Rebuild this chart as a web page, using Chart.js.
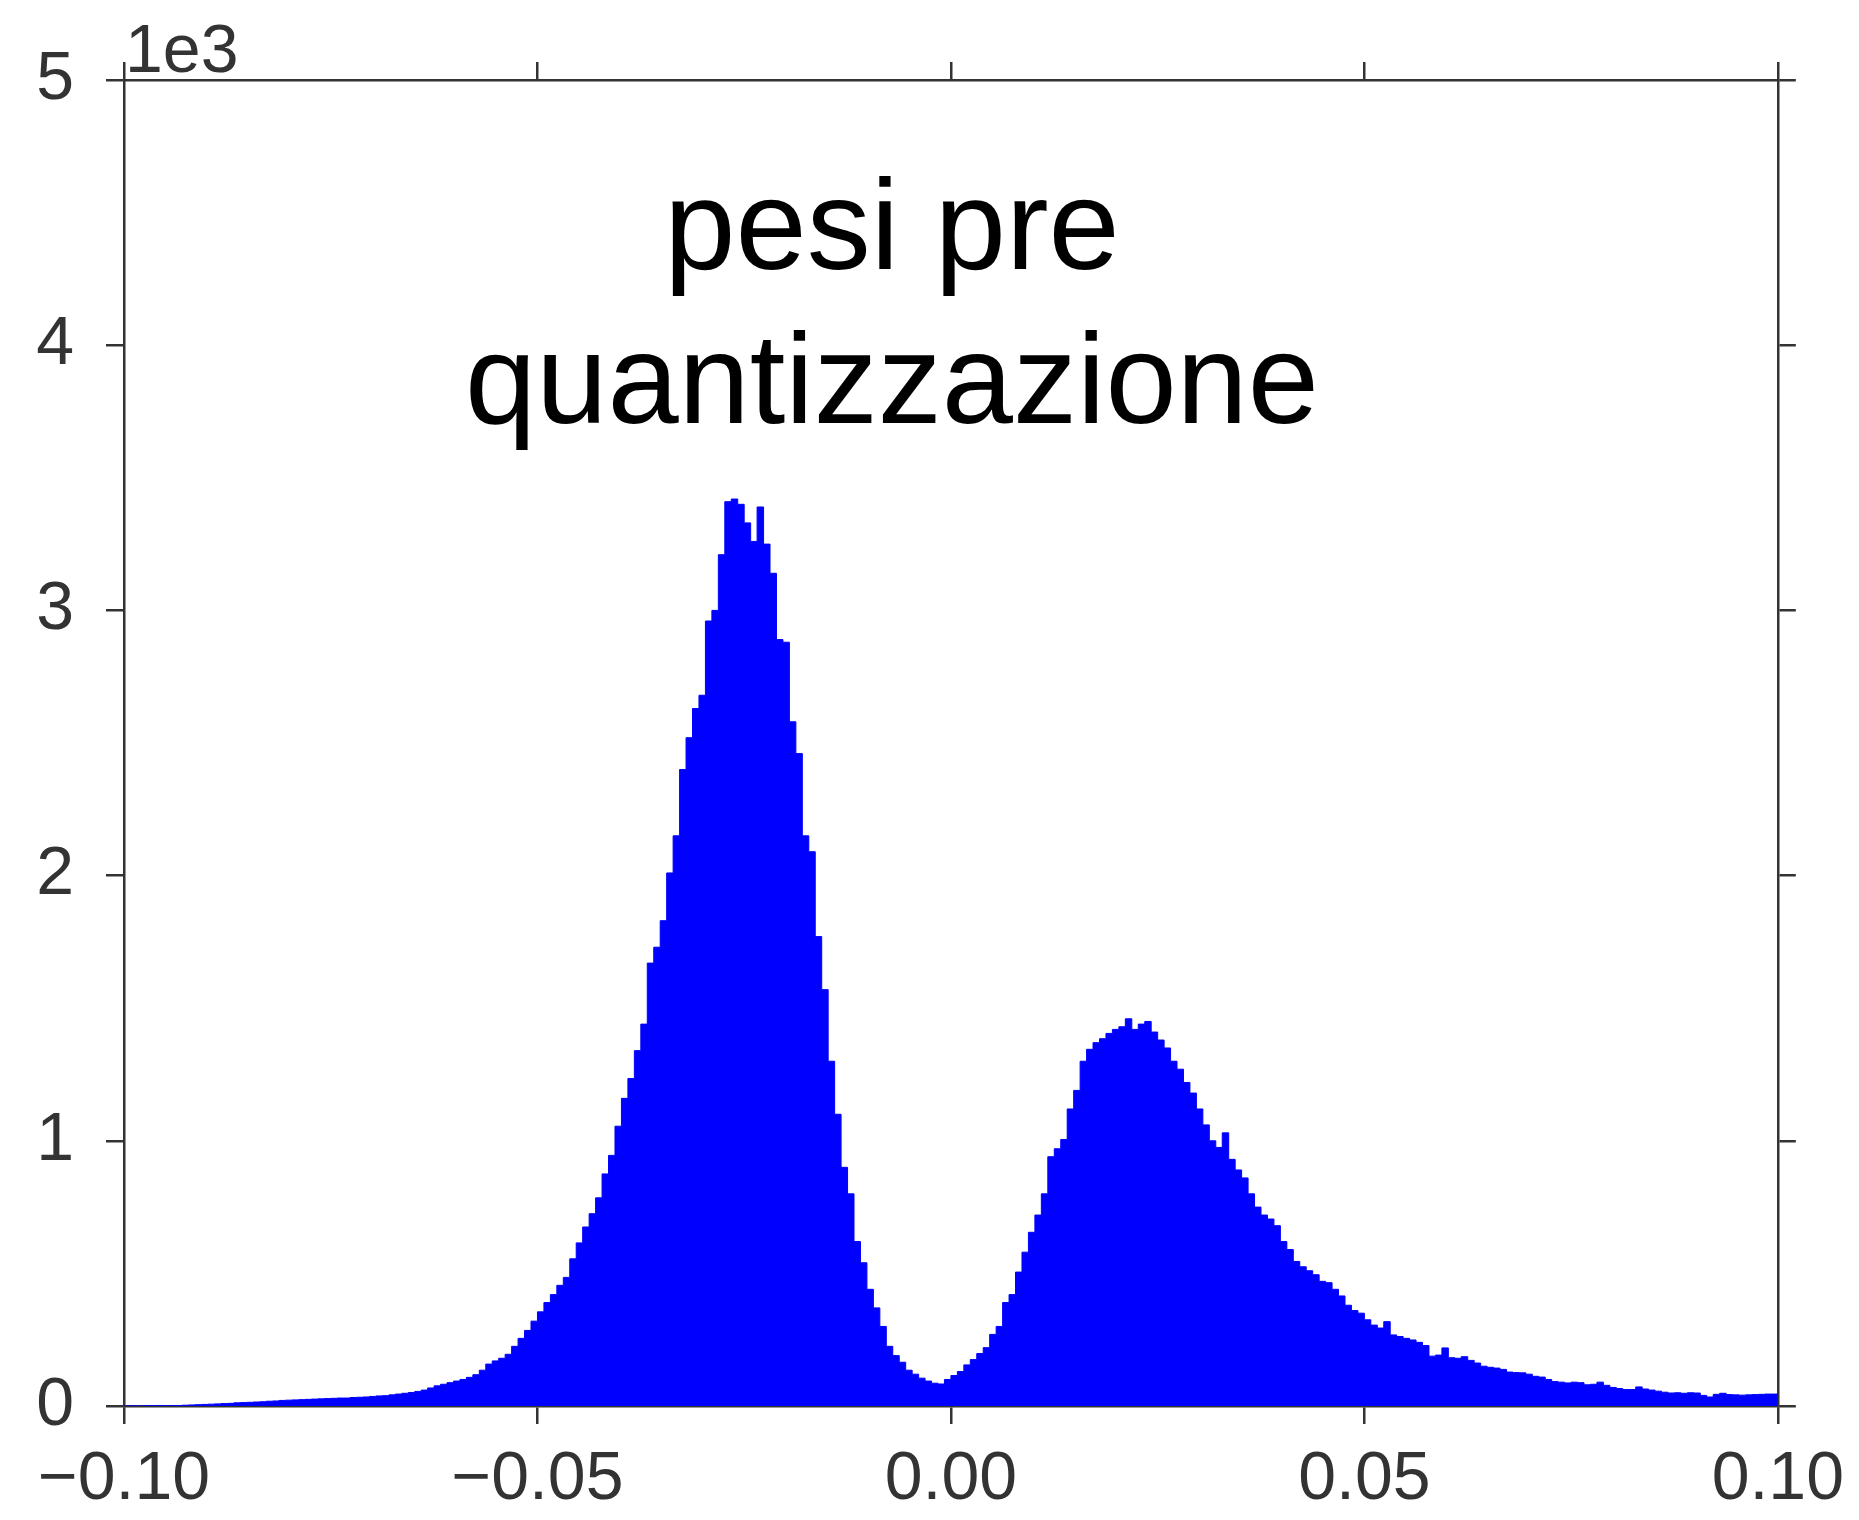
<!DOCTYPE html>
<html>
<head>
<meta charset="utf-8">
<title>pesi pre quantizzazione</title>
<script src="https://cdn.jsdelivr.net/npm/chart.js@4.4.1/dist/chart.umd.min.js"></script>
<style>
  html, body { margin: 0; padding: 0; background: #fff; }
  #wrap { position: relative; width: 1859px; height: 1520px; }
</style>
</head>
<body>
<div id="wrap"><canvas id="histChart"></canvas></div>
<script>
// histogram of the weights, 256 bins between -0.1 and 0.1
const binRange = [-0.1, 0.1];
const counts = [
    0, 0, 1, 0, 1, 1, 2, 1, 2, 2,
    3, 4, 5, 6, 7, 8, 9, 10, 12, 13,
    14, 15, 16, 18, 19, 21, 22, 23, 24, 25,
    26, 27, 28, 29, 30, 30, 32, 33, 34, 36,
    38, 39, 42, 45, 48, 51, 55, 60, 68, 76,
    82, 88, 94, 100, 108, 118, 135, 158, 170, 180,
    195, 225, 255, 285, 320, 355, 390, 420, 455, 485,
    555, 615, 675, 725, 785, 875, 945, 1055, 1160, 1235,
    1340, 1440, 1670, 1730, 1830, 2010, 2150, 2400, 2520, 2630,
    2680, 2960, 3000, 3210, 3410, 3420, 3400, 3330, 3260, 3390,
    3250, 3140, 2890, 2880, 2580, 2460, 2150, 2090, 1770, 1570,
    1300, 1100, 900, 800, 620, 540, 440, 370, 300, 225,
    190, 165, 135, 120, 105, 94, 86, 83, 100, 115,
    130, 155, 175, 198, 220, 270, 300, 390, 420, 505,
    580, 655, 720, 800, 940, 970, 1005, 1120, 1190, 1300,
    1345, 1370, 1385, 1405, 1420, 1430, 1460, 1420, 1440, 1450,
    1410, 1380, 1350, 1300, 1270, 1220, 1180, 1120, 1060, 1000,
    975, 1030, 930, 890, 860, 800, 750, 720, 705, 680,
    620, 590, 545, 525, 510, 495, 470, 465, 440, 415,
    380, 360, 350, 325, 305, 294, 318, 268, 262, 255,
    249, 240, 228, 188, 192, 219, 182, 180, 186, 172,
    162, 150, 146, 143, 138, 128, 126, 125, 120, 112,
    109, 100, 92, 90, 87, 90, 88, 80, 82, 90,
    78, 70, 66, 62, 62, 72, 64, 60, 56, 52,
    49, 50, 48, 50, 49, 40, 34, 44, 48, 43,
    42, 41, 42, 43, 44, 45
];
const xTickLabels = ['\u22120.10', '\u22120.05', '0.00', '0.05', '0.10'];
const yTickLabels = ['0', '1', '2', '3', '4', '5'];
const titleLines = ['pesi pre', 'quantizzazione'];
const offsetLabel = '1e3';

// step points: left edge of each bin, plus the right end of the last one
var binWidth = (binRange[1] - binRange[0]) / counts.length;
var points = counts.map(function (c, i) {
    return { x: binRange[0] + i * binWidth, y: c };
});
points.push({ x: binRange[1], y: counts[counts.length - 1] });

Chart.defaults.font.family = "'Liberation Sans', Arial, sans-serif";
Chart.defaults.color = '#333';

var axisColor = '#333';
var gridOpts = {
    display: true,
    drawOnChartArea: false,
    drawTicks: true,
    tickLength: 18,
    tickWidth: 2.5,
    tickColor: axisColor,
    lineWidth: 2.5,
    color: axisColor
};
var borderOpts = { display: true, color: axisColor, width: 2.5 };

var annotations = {
    id: 'annotations',
    afterDraw: function (chart) {
        var ctx = chart.ctx;
        ctx.save();
        ctx.fillStyle = '#000';
        ctx.textAlign = 'center';
        ctx.textBaseline = 'alphabetic';
        ctx.font = "128px 'Liberation Sans', Arial, sans-serif";
        ctx.fillText(titleLines[0], 892, 269);
        ctx.fillText(titleLines[1], 892, 423);
        ctx.fillStyle = axisColor;
        ctx.textAlign = 'left';
        ctx.font = "68px 'Liberation Sans', Arial, sans-serif";
        ctx.fillText(offsetLabel, 125, 72);
        ctx.restore();
    }
};

var ctx = document.getElementById('histChart').getContext('2d');
var chart = new Chart(ctx, {
    type: 'line',
    data: {
        datasets: [{
            data: points,
            stepped: 'after',
            fill: 'origin',
            backgroundColor: '#0000ff',
            borderColor: '#0000ff',
            borderWidth: 1,
            pointRadius: 0,
            tension: 0
        }]
    },
    options: {
        responsive: true,
        maintainAspectRatio: false,
        animation: false,
        layout: { padding: 0 },
        plugins: {
            legend: { display: false },
            tooltip: { enabled: false }
        },
        scales: {
            x: {
                type: 'linear',
                position: 'bottom',
                min: binRange[0],
                max: binRange[1],
                grid: gridOpts,
                border: borderOpts,
                ticks: {
                    stepSize: 0.05,
                    autoSkip: false,
                    maxRotation: 0,
                    padding: 15,
                    font: { size: 68 },
                    callback: function (v, i) { return xTickLabels[i]; }
                },
                afterFit: function (s) { s.height = 114; }
            },
            x2: {
                type: 'linear',
                position: 'top',
                min: binRange[0],
                max: binRange[1],
                grid: gridOpts,
                border: borderOpts,
                ticks: { stepSize: 0.05, display: false },
                afterFit: function (s) { s.height = 80; }
            },
            y: {
                position: 'left',
                min: 0,
                max: 5000,
                grid: gridOpts,
                border: borderOpts,
                ticks: {
                    stepSize: 1000,
                    padding: 32,
                    font: { size: 68 },
                    callback: function (v, i) { return yTickLabels[i]; }
                },
                afterFit: function (s) { s.width = 124; }
            },
            y2: {
                position: 'right',
                min: 0,
                max: 5000,
                grid: gridOpts,
                border: borderOpts,
                ticks: { stepSize: 1000, display: false },
                afterFit: function (s) { s.width = 77; }
            }
        }
    },
    plugins: [annotations]
});
</script>
</body>
</html>
